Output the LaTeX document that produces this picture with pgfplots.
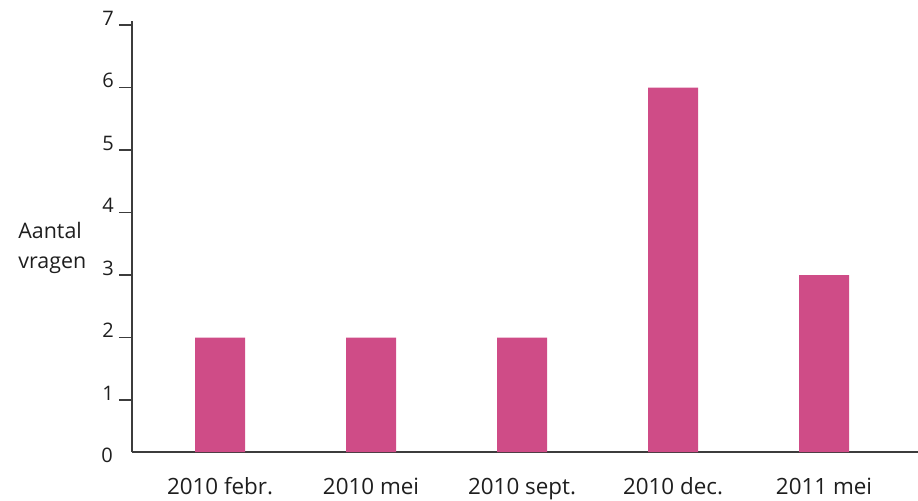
\documentclass[border=0pt]{standalone}
\usepackage{fontspec}
\setmainfont{Open Sans}
\usepackage{pgfplots}
\pgfplotsset{compat=1.18}
\definecolor{barpink}{RGB}{207,76,135}
\definecolor{axisgray}{RGB}{60,60,60}
\definecolor{txt}{RGB}{30,30,30}
\begin{document}
\begin{tikzpicture}
\path[use as bounding box] (-66pt,-24pt) rectangle (393pt,226pt);
\begin{axis}[
  x=75.5pt, y=31.25pt,
  xmin=-0.583, xmax=4.62,
  ymin=0.168, ymax=7.069,
  axis x line=bottom, axis y line=left,
  axis line style={-, draw=axisgray, line width=0.8pt},
  xtick=data,
  xticklabels={2010 febr., 2010 mei, 2010 sept., 2010 dec., 2011 mei},
  x tick style={draw=none},
  xticklabel style={font=\fontsize{11.2pt}{13pt}\selectfont, anchor=base, yshift=-14.5pt, text=txt},
  ytick={1,2,3,4,5,6,7},
  y tick style={draw=axisgray, line width=0.6pt},
  tick align=outside,
  major tick length=6.5pt,
  yticklabel style={font=\fontsize{10pt}{12pt}\selectfont, anchor=base east, xshift=1pt, text=txt},
  extra y ticks={0.168},
  extra y tick labels={0},
  extra y tick style={major tick length=0pt, yticklabel style={yshift=-5pt, xshift=-7pt}},
  /pgf/number format/assume math mode=true,
  ybar, bar width=25pt,
]
\addplot[fill=barpink, draw=none] coordinates {(0,2) (1,2) (2,2) (3,6) (4,3)};
\end{axis}
\node[anchor=base west, inner sep=0pt, font=\fontsize{10.7pt}{13pt}\selectfont, text=txt] at (-57pt,107pt) {Aantal};
\node[anchor=base west, inner sep=0pt, font=\fontsize{10.7pt}{13pt}\selectfont, text=txt] at (-57pt,92pt) {vragen};
\end{tikzpicture}
\end{document}
